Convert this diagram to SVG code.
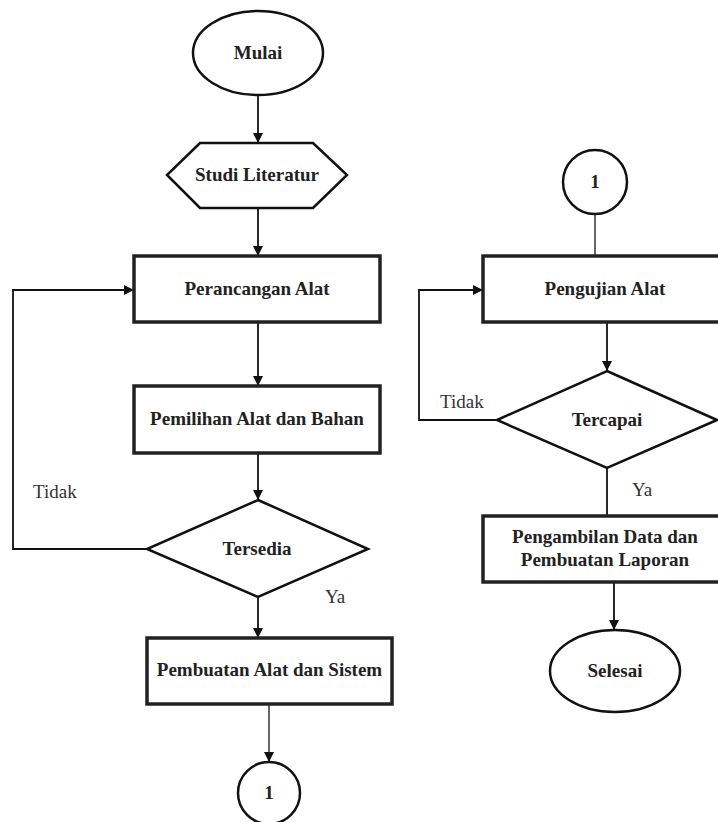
<svg xmlns="http://www.w3.org/2000/svg" width="718" height="822" viewBox="0 0 718 822">
<style>
.shape{fill:#fff;stroke:#111;stroke-width:2.5}
.box{fill:#fff;stroke:#222;stroke-width:3.5}
.t{font-family:"Liberation Serif","DejaVu Serif",serif;font-size:19px;font-weight:bold;fill:#222;text-anchor:middle}
.lbl{font-family:"Liberation Serif","DejaVu Serif",serif;font-size:19px;fill:#333}
.c{fill:none;stroke:#111;stroke-width:1.8}
.g{fill:none;stroke:#666;stroke-width:2}
</style>
<defs>
<marker id="ah" viewBox="0 0 10 10" refX="10" refY="5" markerWidth="10" markerHeight="10" markerUnits="userSpaceOnUse" orient="auto">
<path d="M0,0 L10,5 L0,10 z" fill="#111"/>
</marker>
</defs>
<rect width="718" height="822" fill="#fff"/>
<g id="connectors">
<line class="c" x1="258" y1="95" x2="258" y2="143" marker-end="url(#ah)"/>
<line class="c" x1="258" y1="208" x2="258" y2="256" marker-end="url(#ah)"/>
<line class="c" x1="258" y1="322" x2="258" y2="386" marker-end="url(#ah)"/>
<line class="c" x1="258" y1="453" x2="258" y2="500" marker-end="url(#ah)"/>
<polyline class="c" points="147,549 13,549 13,290 134,290" marker-end="url(#ah)"/>
<line class="c" x1="258" y1="597" x2="258" y2="638" marker-end="url(#ah)"/>
<line class="g" x1="269" y1="704" x2="269" y2="762" marker-end="url(#ah)"/>
<line class="g" x1="595" y1="214" x2="595" y2="256"/>
<line class="c" x1="607" y1="322" x2="607" y2="371" marker-end="url(#ah)"/>
<polyline class="c" points="497,420 419,420 419,290 483,290" marker-end="url(#ah)"/>
<line class="c" x1="607" y1="468" x2="607" y2="516"/>
<line class="c" x1="614" y1="582" x2="614" y2="630" marker-end="url(#ah)"/>
<text class="lbl" x="33" y="498">Tidak</text>
<text class="lbl" x="325" y="603">Ya</text>
<text class="lbl" x="440" y="408">Tidak</text>
<text class="lbl" x="632" y="496">Ya</text>
</g>
<g id="mulai">
<ellipse class="shape" cx="258" cy="53" rx="65" ry="42"/>
<text class="t" x="258" y="59">Mulai</text>
</g>
<g id="studi">
<polygon class="shape" points="200,143 313,143 347,175 313,208 200,208 167,175"/>
<text class="t" x="257" y="181">Studi Literatur</text>
</g>
<g id="perancangan">
<rect class="box" x="134" y="256" width="246" height="66"/>
<text class="t" x="257" y="295">Perancangan Alat</text>
</g>
<g id="pemilihan">
<rect class="box" x="134" y="386" width="246" height="67"/>
<text class="t" x="257" y="425">Pemilihan Alat dan Bahan</text>
</g>
<g id="tersedia">
<polygon class="shape" points="258,500 368,549 258,597 147,549"/>
<text class="t" x="257" y="555">Tersedia</text>
</g>
<g id="pembuatan">
<rect class="box" x="147" y="638" width="245" height="66"/>
<text class="t" x="269.5" y="676">Pembuatan Alat dan Sistem</text>
</g>
<g id="konektor1a">
<circle class="shape" cx="269" cy="793" r="31"/>
<text class="t" x="269" y="799">1</text>
</g>
<g id="konektor1b">
<circle class="shape" cx="595" cy="182" r="32"/>
<text class="t" x="595" y="188">1</text>
</g>
<g id="pengujian">
<rect class="box" x="483" y="256" width="250" height="66"/>
<text class="t" x="605" y="295">Pengujian Alat</text>
</g>
<g id="tercapai">
<polygon class="shape" points="607,371 717,420 607,468 497,420"/>
<text class="t" x="607" y="426">Tercapai</text>
</g>
<g id="pengambilan">
<rect class="box" x="483" y="516" width="250" height="66"/>
<text class="t" x="605" y="543">Pengambilan Data dan</text>
<text class="t" x="605" y="566">Pembuatan Laporan</text>
</g>
<g id="selesai">
<ellipse class="shape" cx="615" cy="671" rx="65" ry="41"/>
<text class="t" x="615" y="677">Selesai</text>
</g>
</svg>
